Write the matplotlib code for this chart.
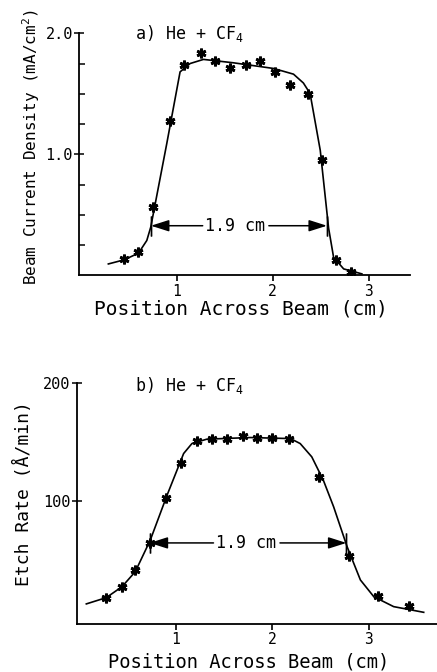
import matplotlib
matplotlib.use("Agg")
import matplotlib.pyplot as plt

plt.rcParams["font.family"] = "DejaVu Sans Mono"
plt.rcParams["mathtext.default"] = "regular"

# ── a) beam current density ────────────────────────────────────────────────
a_pts_x = [0.45, 0.60, 0.756, 0.93, 1.08, 1.25, 1.40, 1.556, 1.72, 1.87,
           2.026, 2.183, 2.363, 2.513, 2.663, 2.816]
a_pts_y = [0.136, 0.19, 0.563, 1.276, 1.737, 1.834, 1.773, 1.71, 1.737, 1.773,
           1.682, 1.572, 1.503, 0.95, 0.127, 0.025]
a_fit_x = [0.286, 0.45, 0.60, 0.687, 0.728, 0.895, 1.034, 1.139, 1.278, 1.59,
           2.01, 2.217, 2.32, 2.39, 2.496, 2.583, 2.635, 2.74, 2.93]
a_fit_y = [0.094, 0.128, 0.183, 0.288, 0.398, 1.088, 1.682, 1.751, 1.785, 1.757,
           1.71, 1.663, 1.59, 1.503, 1.033, 0.39, 0.149, 0.053, 0.012]
a_fwhm = (0.73, 2.566, 0.41)

# ── b) etch rate ───────────────────────────────────────────────────────────
b_pts_x = [0.277, 0.44, 0.578, 0.727, 0.897, 1.056, 1.219, 1.374, 1.53, 1.696,
           1.84, 2.0, 2.17, 2.489, 2.80, 3.095, 3.417]
b_pts_y = [18.5, 27.7, 41.8, 64.9, 102.8, 132.3, 150.8, 152.3, 152.3, 155.1,
           153.4, 153.7, 152.3, 120, 53.6, 19.9, 11.7]
b_fit_x = [0.07, 0.277, 0.44, 0.578, 0.734, 0.908, 1.08, 1.166, 1.32, 1.77,
           2.19, 2.29, 2.41, 2.53, 2.637, 2.777, 2.915, 3.054, 3.26, 3.572]
b_fit_y = [13.2, 18.5, 27.7, 40.4, 67.1, 105, 140.2, 148.6, 152.3, 153.7,
           152.8, 148.6, 137.4, 117.7, 95.2, 61.5, 33.4, 19.3, 10.9, 6.1]
b_fwhm = (0.727, 2.77, 64.7)

fig = plt.figure(figsize=(4.37, 6.72), dpi=100, facecolor="white")
ax1 = fig.add_axes([0.1808, 0.5903, 0.757, 0.360])
ax2 = fig.add_axes([0.1755, 0.0719, 0.8245, 0.3586])

MK = dict(marker=(6, 2, 0), ms=7, mew=2.0, color="black", ls="none", zorder=4)


def style(ax):
    for s in ("top", "right"):
        ax.spines[s].set_visible(False)
    for s in ("left", "bottom"):
        ax.spines[s].set_linewidth(1.3)
    ax.tick_params(axis="x", direction="out", length=4, width=1.2,
                   labelsize=10.5, pad=2)
    ax.tick_params(axis="y", which="major", direction="inout", length=7,
                   width=1.1, labelsize=11, pad=1)
    ax.tick_params(axis="y", which="minor", direction="in", length=4, width=1.1)
    ax.set_xticks([1, 2, 3])


def fwhm_arrow(ax, x0, x1, y, gap_l, gap_r, tx):
    ap = dict(arrowstyle="-|>,head_length=1.1,head_width=0.35", color="black",
              lw=1.1, shrinkA=0, shrinkB=0)
    ax.annotate("", xy=(x0, y), xytext=(gap_l, y), arrowprops=ap)
    ax.annotate("", xy=(x1, y), xytext=(gap_r, y), arrowprops=ap)
    ax.text(tx, y, "1.9 cm", ha="center", va="center", fontsize=12)
    ax.plot([x0, x0], [y, y], marker="|", ms=14, mew=1.0, color="black")
    ax.plot([x1, x1], [y, y], marker="|", ms=14, mew=1.0, color="black")


# ── panel a ────────────────────────────────────────────────────────────────
style(ax1)
ax1.plot(a_fit_x, a_fit_y, color="black", lw=1.2)
ax1.plot(a_pts_x, a_pts_y, **MK)
ax1.set_xlim(-0.02, 3.43)
ax1.set_ylim(0, 2.0)
ax1.set_yticks([1.0, 2.0])
ax1.set_yticklabels(["1.0", "2.0"])
ax1.set_yticks([0.25, 0.5, 0.75, 1.25, 1.5, 1.75], minor=True)
fwhm_arrow(ax1, a_fwhm[0], a_fwhm[1], a_fwhm[2], 1.27, 1.96, 1.61)
ax1.text(0.565, 1.95, "a) He + CF$_4$", fontsize=12, ha="left", va="baseline")
ax1.set_ylabel("Beam Current Density (mA/cm$^2$)", fontsize=11.5)
ax1.yaxis.set_label_coords(-0.112, 0.53)
ax1.set_xlabel("Position Across Beam (cm)", fontsize=14, va="top")
ax1.xaxis.set_label_coords(0.49, -0.1)

# ── panel b ────────────────────────────────────────────────────────────────
style(ax2)
ax2.plot(b_fit_x, b_fit_y, color="black", lw=1.2)
ax2.plot(b_pts_x, b_pts_y, **MK)
ax2.set_xlim(-0.03, 3.71)
ax2.set_ylim(-3.5, 200)
ax2.set_yticks([100, 200])
fwhm_arrow(ax2, b_fwhm[0], b_fwhm[1], b_fwhm[2], 1.39, 2.08, 1.73)
ax2.text(0.578, 193, "b) He + CF$_4$", fontsize=12, ha="left", va="baseline")
ax2.set_ylabel("Etch Rate (Å/min)", fontsize=13)
ax2.yaxis.set_label_coords(-0.121, 0.54)
ax2.set_xlabel("Position Across Beam (cm)", fontsize=13.5, va="top")
ax2.xaxis.set_label_coords(0.476, -0.118)

fig.savefig("out.png", dpi=100, facecolor="white")
